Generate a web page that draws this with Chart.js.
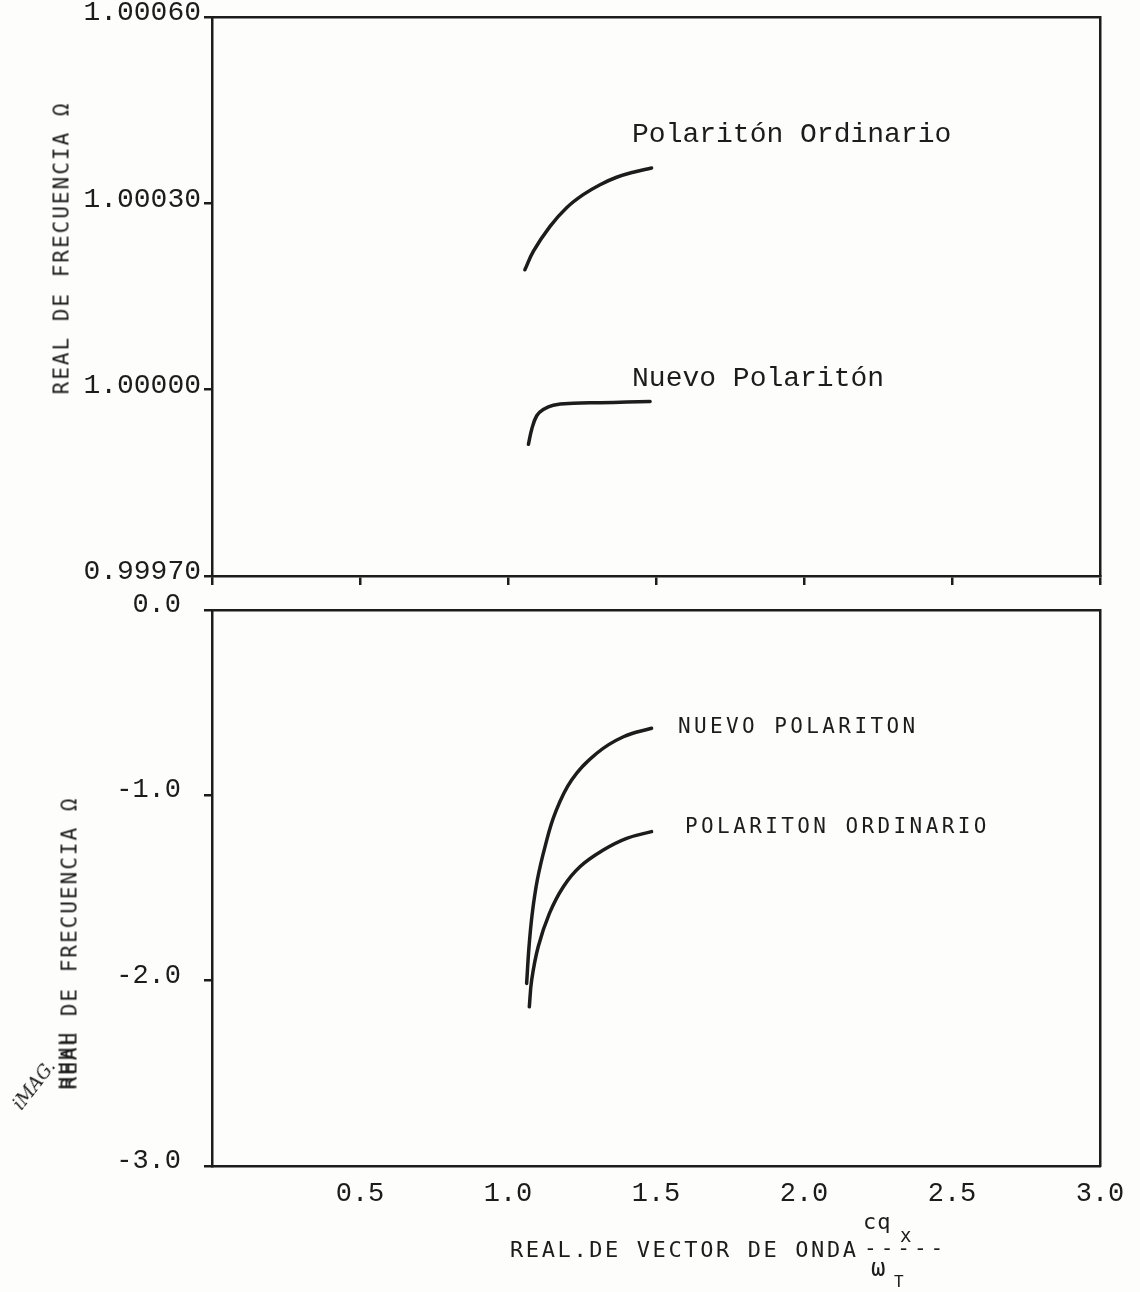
<!DOCTYPE html>
<html><head><meta charset="utf-8">
<script src="https://cdn.jsdelivr.net/npm/chart.js@4.4.1/dist/chart.umd.min.js"></script>
<style>
html,body{margin:0;padding:0;background:#fff;}
#wrap{position:relative;width:1140px;height:1292px;overflow:hidden;background:#fdfdfc;}
canvas{position:absolute;left:0;top:0;}
.t{position:absolute;white-space:nowrap;color:#1c1c1c;line-height:1;}
.plot{font-family:'DejaVu Sans Mono',monospace;font-size:21px;letter-spacing:2px;}
.rot{transform:translate(-50%,-50%) rotate(-90deg);}
.strike{position:relative;}
.strike::after{content:'HHHH';position:absolute;left:0;top:0;}
</style></head>
<body><div id="wrap">
<canvas id="topChart" width="1140" height="1292"></canvas>
<canvas id="botChart" width="1140" height="1292"></canvas>
<div class="t plot rot" style="left:62px;top:248px;">REAL DE FRECUENCIA Ω</div>
<div class="t plot rot" style="left:70px;top:943px;"><span class="strike">REAL</span> DE FRECUENCIA Ω</div>
<div class="t" style="left:34px;top:1085px;transform:translate(-50%,-50%) rotate(-52deg);font-family:'DejaVu Serif',serif;font-style:italic;font-size:18px;">iMAG.</div>
<div class="t plot" style="left:510px;top:1239px;font-size:22px;letter-spacing:2.6px;">REAL.DE VECTOR DE ONDA</div>
<div class="t plot" style="left:863px;top:1211px;font-size:22px;letter-spacing:1px;">cq</div>
<div class="t plot" style="left:900px;top:1226px;font-size:19px;letter-spacing:0;">x</div>
<div class="t plot" style="left:864px;top:1238px;font-size:21px;letter-spacing:4px;">-----</div>
<div class="t plot" style="left:871px;top:1256px;font-size:24px;letter-spacing:0;">ω</div>
<div class="t plot" style="left:894px;top:1274px;font-size:16px;letter-spacing:0;">T</div>
</div>
<script>
// ---- data ----
const xTicks = [0.5, 1.0, 1.5, 2.0, 2.5, 3.0];
const xTickLabels = ['0.5', '1.0', '1.5', '2.0', '2.5', '3.0'];
const yTicksTop = [0.9997, 1.0, 1.0003, 1.0006];
const yTickLabelsTop = ['0.99970', '1.00000', '1.00030', '1.00060'];
const yTicksBot = [-3, -2, -1, 0];
const yTickLabelsBot = ['-3.0', '-2.0', '-1.0', '0.0'];

// upper panel: real part of frequency
const ordRealX = [1.057, 1.086, 1.142, 1.198, 1.254, 1.311, 1.367, 1.423, 1.485];
const ordRealY = [1.000193, 1.000223, 1.000263, 1.000293, 1.000314, 1.000330, 1.000342, 1.000350, 1.000357];
const newRealX = [1.069, 1.080, 1.097, 1.119, 1.153, 1.221, 1.311, 1.401, 1.480];
const newRealY = [0.999912, 0.999936, 0.999958, 0.999968, 0.999975, 0.999978, 0.999979, 0.999980, 0.999981];

// lower panel: imaginary part of frequency
const newImagX = [1.063, 1.071, 1.082, 1.099, 1.125, 1.159, 1.215, 1.300, 1.390, 1.485];
const newImagY = [-2.015, -1.817, -1.637, -1.457, -1.278, -1.097, -0.917, -0.773, -0.684, -0.638];
const ordImagX = [1.072, 1.080, 1.102, 1.140, 1.187, 1.243, 1.322, 1.401, 1.485];
const ordImagY = [-2.141, -1.997, -1.817, -1.637, -1.493, -1.385, -1.295, -1.232, -1.196];

const topNotes = [
  {text: 'Polaritón Ordinario', x: 1.419, y: 1.000410},
  {text: 'Nuevo Polaritón', x: 1.419, y: 1.000018}
];
const botNotes = [
  {text: 'NUEVO POLARITON', x: 1.574, y: -0.636},
  {text: 'POLARITON ORDINARIO', x: 1.598, y: -1.175}
];

// ---- helpers ----
const INK = '#1c1c1c';
const pts = (xs, ys) => xs.map((x, i) => ({x, y: ys[i]}));
function fixSize(prop, size) {
  return function (s) {
    s[prop] = size;
    s.paddingTop = 0; s.paddingBottom = 0; s.paddingLeft = 0; s.paddingRight = 0;
  };
}
function setTicks(vals) {
  return function (s) { s.ticks = vals.map(v => ({value: v})); };
}
function notesPlugin(items, font, spacing) {
  return {
    id: 'notes',
    afterDatasetsDraw(chart) {
      const {ctx, scales} = chart;
      ctx.save();
      ctx.fillStyle = INK;
      ctx.font = font;
      ctx.textBaseline = 'middle';
      ctx.textAlign = 'left';
      if ('letterSpacing' in ctx) ctx.letterSpacing = spacing;
      items.forEach(n => ctx.fillText(n.text, scales.x.getPixelForValue(n.x), scales.y.getPixelForValue(n.y)));
      ctx.restore();
    }
  };
}
function lineDs(data) {
  return {
    data, borderColor: INK, borderWidth: 3.5, pointRadius: 0,
    tension: 0.4, fill: false, borderCapStyle: 'round'
  };
}
function frameAxis(position, prop) {
  return {
    type: 'linear', position, display: true,
    ticks: {display: false},
    grid: {display: false, drawTicks: false},
    border: {display: true, color: INK, width: 2.5},
    afterFit: fixSize(prop, 0)
  };
}

Chart.defaults.font.family = "'Liberation Mono', monospace";
Chart.defaults.color = INK;

// ---- top chart ----
new Chart(document.getElementById('topChart'), {
  type: 'line',
  data: {datasets: [lineDs(pts(ordRealX, ordRealY)), lineDs(pts(newRealX, newRealY))]},
  options: {
    responsive: false, animation: false,
    layout: {padding: {top: 17, right: 40, bottom: 707, left: 0}},
    plugins: {legend: {display: false}, tooltip: {enabled: false}},
    scales: {
      x: {
        type: 'linear', min: 0, max: 3, position: 'bottom',
        afterBuildTicks: setTicks([0].concat(xTicks)),
        ticks: {display: false},
        grid: {display: true, drawOnChartArea: false, drawTicks: true, tickLength: 9, color: INK, lineWidth: 2.5},
        border: {display: true, color: INK, width: 2.5},
        afterFit: fixSize('height', 9)
      },
      y: {
        type: 'linear', min: 0.9997, max: 1.0006, position: 'left',
        afterBuildTicks: setTicks(yTicksTop),
        ticks: {
          callback: (v, i) => yTickLabelsTop[i],
          font: {size: 28}, padding: 3, labelOffset: -4, color: INK
        },
        grid: {display: true, drawOnChartArea: false, drawTicks: true, tickLength: 8, color: INK, lineWidth: 2.5},
        border: {display: true, color: INK, width: 2.5},
        afterFit: fixSize('width', 212)
      },
      xTop: frameAxis('top', 'height'),
      yRight: frameAxis('right', 'width')
    }
  },
  plugins: [notesPlugin(topNotes, "28px 'Liberation Mono', monospace", '0px')]
});

// ---- bottom chart ----
new Chart(document.getElementById('botChart'), {
  type: 'line',
  data: {datasets: [lineDs(pts(newImagX, newImagY)), lineDs(pts(ordImagX, ordImagY))]},
  options: {
    responsive: false, animation: false,
    layout: {padding: {top: 610, right: 40, bottom: 76, left: 0}},
    plugins: {legend: {display: false}, tooltip: {enabled: false}},
    scales: {
      x: {
        type: 'linear', min: 0, max: 3, position: 'bottom',
        afterBuildTicks: setTicks(xTicks),
        ticks: {
          callback: (v, i) => xTickLabels[i],
          font: {size: 27}, padding: 12, color: INK, maxRotation: 0, autoSkip: false
        },
        grid: {display: false, drawTicks: false},
        border: {display: true, color: INK, width: 2.5},
        afterFit: fixSize('height', 50)
      },
      y: {
        type: 'linear', min: -3, max: 0, position: 'left',
        afterBuildTicks: setTicks(yTicksBot),
        ticks: {
          callback: (v, i) => yTickLabelsBot[i],
          font: {size: 27}, padding: 23, labelOffset: -5, color: INK
        },
        grid: {display: true, drawOnChartArea: false, drawTicks: true, tickLength: 8, color: INK, lineWidth: 2.5},
        border: {display: true, color: INK, width: 2.5},
        afterFit: fixSize('width', 212)
      },
      xTop: frameAxis('top', 'height'),
      yRight: frameAxis('right', 'width')
    }
  },
  plugins: [notesPlugin(botNotes, "21px 'DejaVu Sans Mono', monospace", '3.4px')]
});
</script>
</body></html>
